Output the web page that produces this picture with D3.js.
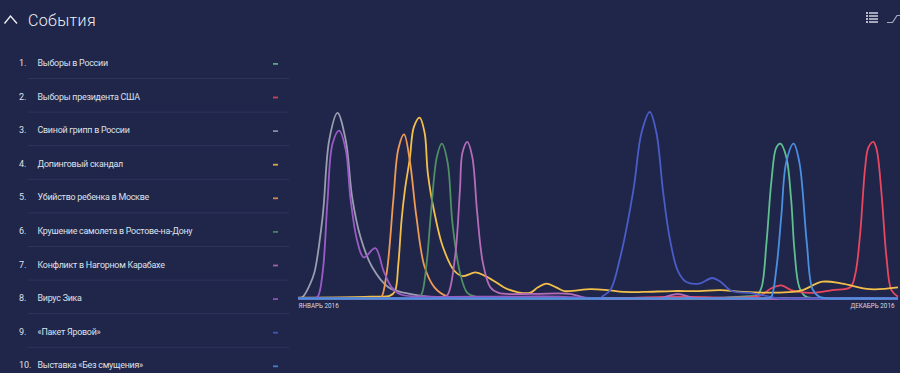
<!DOCTYPE html>
<html><head><meta charset="utf-8">
<script src="https://cdn.jsdelivr.net/npm/d3@7"></script>
<style>
html,body{margin:0;padding:0;background:#20264a;overflow:hidden}
svg{display:block}
text{font-family:Roboto,"Noto Sans",sans-serif}
</style></head><body>
<svg id="c" width="900" height="373"></svg>
<script>
const title = "События";
const categories = ["Выборы в России","Выборы президента США","Свиной грипп в России","Допинговый скандал","Убийство ребенка в Москве","Крушение самолета в Ростове-на-Дону","Конфликт в Нагорном Карабахе","Вирус Зика","«Пакет Яровой»","Выставка «Без смущения»"];
const colors = ["#5fbf8f","#e8475f","#9a9db0","#f2c04a","#ef9a55","#4f8f63","#b56cb8","#9a5cc4","#4a5cc8","#4a8fe0"];
const tickLabels = ["ЯНВАРЬ 2016","ДЕКАБРЬ 2016"];
const tickDays = [0,365];

const days1 = [0,244,270,276,279,282,285,288,291,293.5,297,300,302,305,309,317,323,365];
const vals1 = [0,0,1,1.2,1.5,6,30,63,81,83,76,53,26,6,1,0,0,0];
const days2 = [0,184,232,264,281,288,294,300,305,313,325,336,339,342,345,347,350,352,355,358,361,365];
const vals2 = [0,0,1,0.5,1.5,5.5,7,4.5,3.5,3,4.5,6,13,35,70,81,84,80,56,22,4.5,1];
const days3 = [0,3,7,10,15,19,24,29,33,38,45,55,65,79,105,112,365];
const vals3 = [0,1,7,14,44,85,99.5,85,54,33,17,6,3,1,0,0,0];
const days4 = [0,10,44,56,59,61,63,65,68,70.5,74,77,79,83,88,95,100,108,114,120,126,133,141,146,151,157,162,178,188,198,210,228,244,257,271,301,307,319,331,348,365];
const vals4 = [0.5,0.5,1,1.5,4,18,42,58,75,92,97,89,67,46,28,15,12,14,12,9,5.6,3.5,3,6,8,6,4,5,4.5,3.5,3.5,4,4,4.5,3.5,3.5,4.5,9,8,5,6];
const days5 = [0,44,48,50.5,54,58,61,64.5,68,72,77,83,91,100,106,365];
const vals5 = [0,0,0,0.3,14,53,80,88,74,44,17,6,1,0,0,0];
const days6 = [0,64,69,72,75,78,81,84.5,87.5,91,94,98.5,103,108,117,123,365];
const vals6 = [0,0,0,0.3,2,17,47,76,83,73,40,14,3,1,0,0,0];
const days7 = [0,80,85,87.5,91,95.5,98.5,100,103,106,109,112.5,117,122,143,165,177,183,215,220,231,240,260,365];
const vals7 = [0,0,0,0.3,2,22,58,78,84,76,46,19,6,3,2.5,2.5,0,0,0,0,2.5,0.5,0,0];
const days8 = [0,5,9,12,15,18,21,25,29,32,36,40,47,52,57,63,79,123,159,184,190,365];
const vals8 = [0,0,0,1,14,53,83,90,80,53,31,22,27,15,6,2,1,1,1,0,0,0];
const days9 = [0,176,181,184,185,190,196,204,209,214,218,222,226,231,236,244,252,257,264,275,281,293,300,365];
const vals9 = [0,0,0,0,1,4.5,22,58,89,100,89,58,33,15,9,8,11,9,4,3,2,0,0,0];
const days10 = [0,278,283,286,288,291,294,297,301.5,305,309.5,313,317,323,330,365];
const vals10 = [0,0,0,0,1,16,44,73,83,73,30,5,1,0,0,0];
const seriesDays = [days1,days2,days3,days4,days5,days6,days7,days8,days9,days10];
const seriesVals = [vals1,vals2,vals3,vals4,vals5,vals6,vals7,vals8,vals9,vals10];

const svg = d3.select("#c");
const x = d3.scaleLinear().domain([0,365]).range([298,898]);
const y = d3.scaleLinear().domain([0,100]).range([298.5,112]);

// header
svg.append("path").attr("d","M4.5 23.5L10.5 16L17 23.5").attr("fill","none").attr("stroke","#f2f3f7").attr("stroke-width",1.3);
svg.append("text").attr("x",28).attr("y",26).attr("font-size",16).attr("font-weight",300).attr("letter-spacing",0.35).attr("fill","#eef0f6").text(title);
const icon = svg.append("g").attr("stroke","#eef0f6").attr("stroke-width",1.3);
[13,16,19,22].forEach(v=>{
  icon.append("line").attr("x1",866).attr("x2",868).attr("y1",v).attr("y2",v);
  icon.append("line").attr("x1",869).attr("x2",878).attr("y1",v).attr("y2",v);
});
svg.append("path").attr("d","M887 22.5H892.5L897 15.5H900").attr("fill","none").attr("stroke","#a9adc2").attr("stroke-width",1.2);

// list
const rowY = d3.scaleLinear().domain([0,1]).range([63,96.6]);
const rows = svg.append("g").selectAll("g").data(categories).join("g");
rows.append("text").attr("x",19).attr("y",(d,i)=>rowY(i)+3).attr("font-size",9).attr("fill","#dfe1ea").text((d,i)=>(i+1)+".");
rows.append("text").attr("x",37.5).attr("y",(d,i)=>rowY(i)+3).attr("font-size",8.9).attr("letter-spacing",-0.24).attr("fill","#dfe1ea").text(d=>d);
rows.append("rect").attr("x",273).attr("y",(d,i)=>rowY(i)).attr("width",5).attr("height",1.8).attr("fill",(d,i)=>colors[i]).attr("opacity",0.85);
rows.filter((d,i)=>i<9).append("line").attr("x1",28).attr("x2",289).attr("y1",(d,i)=>rowY(i)+15.5).attr("y2",(d,i)=>rowY(i)+15.5).attr("stroke","#2e3559").attr("stroke-width",1);

// axis
const axis = d3.axisBottom(x).tickValues(tickDays).tickSize(0).tickPadding(5).tickFormat((d,i)=>tickLabels[i]);
const ag = svg.append("g").attr("transform","translate(0,298.5)").call(axis);
ag.select(".domain").remove();
ag.selectAll("text").attr("font-size",6.3).attr("fill","#d5d8e4").attr("font-family","Roboto,sans-serif")
  .attr("text-anchor",(d,i)=>i?"end":"start").attr("dx",(d,i)=>i?-4:0);

// lines
const line = d3.line().x(d=>x(d[0])).y(d=>y(d[1])).curve(d3.curveCatmullRom.alpha(0.5));
svg.append("g").attr("fill","none").attr("stroke-width",1.8).attr("stroke-linejoin","round")
  .selectAll("path").data(d3.range(10)).join("path")
  .attr("stroke",i=>colors[i])
  .attr("d",i=>line(seriesDays[i].map((v,j)=>[v,seriesVals[i][j]])));
</script>
</body></html>
